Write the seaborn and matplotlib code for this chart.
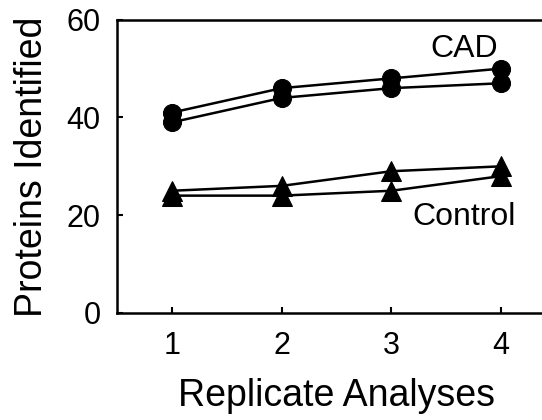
import numpy as np
import pandas as pd
import matplotlib
matplotlib.use("Agg")
import matplotlib.pyplot as plt
import seaborn as sns

# ----------------------------------------
# Data
# ----------------------------------------

replicates = [1, 2, 3, 4]

cad_run_a = [41, 46, 48, 50]
cad_run_b = [39, 44, 46, 47]
control_run_a = [25, 26, 29, 30]
control_run_b = [24, 24, 25, 28]

# ----------------------------------------
# Plot
# ----------------------------------------

sns.set_theme(style="white")
plt.rcParams["font.family"] = ["Liberation Sans", "DejaVu Sans"]
plt.rcParams["text.color"] = "black"
plt.rcParams["axes.labelcolor"] = "black"

fig = plt.figure(figsize=(5.42, 4.2), dpi=100)
ax = fig.add_axes([0.216, 0.255, 0.81, 0.698])

series = [
    (cad_run_a, "o"),
    (cad_run_b, "o"),
    (control_run_a, "^"),
    (control_run_b, "^"),
]

for values, mk in series:
    sns.lineplot(
        x=replicates,
        y=values,
        ax=ax,
        color="black",
        marker=mk,
        markersize=13 if mk == "o" else 14,
        markeredgecolor="black",
        linewidth=1.8,
    )

ax.text(3.66, 54.0, "CAD", fontsize=23, ha="center", va="center")
ax.text(3.66, 19.6, "Control", fontsize=23, ha="center", va="center")

ax.set_xlim(0.5, 4.5)
ax.set_ylim(0, 60)
ax.set_xticks(replicates)
ax.set_yticks([0, 20, 40, 60])

ax.tick_params(axis="both", direction="in", length=4, width=1.5,
               labelsize=22, color="black", labelcolor="black")
ax.tick_params(axis="x", pad=13, bottom=True)
ax.tick_params(axis="y", pad=12, left=True)

ax.set_xlabel("Replicate Analyses", fontsize=27, labelpad=12)
ax.set_ylabel("Proteins Identified", fontsize=27, labelpad=12)

for side in ["left", "bottom", "top", "right"]:
    ax.spines[side].set_color("black")
    ax.spines[side].set_linewidth(1.8)

plt.savefig("out.png", dpi=100)
